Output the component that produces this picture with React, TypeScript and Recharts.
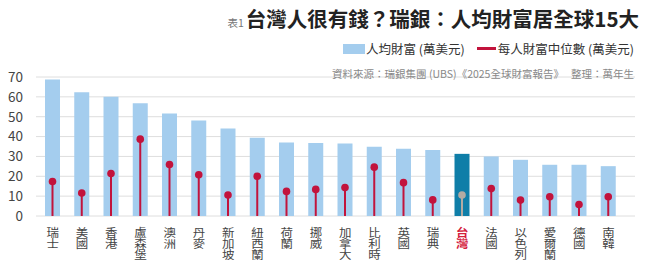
import React from "react";
import {
  ComposedChart,
  Bar,
  Cell,
  XAxis,
  YAxis,
  CartesianGrid,
  Legend,
} from "recharts";

const countries = [
  "瑞士", "美國", "香港", "盧森堡", "澳洲", "丹麥", "新加坡", "紐西蘭", "荷蘭", "挪威",
  "加拿大", "比利時", "英國", "瑞典", "台灣", "法國", "以色列", "愛爾蘭", "德國", "南韓",
];
const avgWealth = [
  68.8, 62.3, 60.0, 56.8, 51.6, 48.1, 44.1, 39.4, 37.0, 36.7,
  36.5, 34.9, 33.9, 33.3, 31.3, 30.0, 28.3, 25.8, 25.8, 25.1,
];
const medianWealth = [
  17.4, 11.6, 21.4, 38.7, 25.9, 20.8, 10.6, 20.0, 12.4, 13.4,
  14.3, 24.6, 16.8, 8.1, 10.6, 13.8, 8.0, 9.7, 5.8, 9.7,
];
const yTicks = [0, 10, 20, 30, 40, 50, 60, 70];
const highlight = "台灣";

const data = countries.map((name, i) => ({
  name,
  avg: avgWealth[i],
  median: medianWealth[i],
}));

const FONT = "'Noto Sans CJK TC', 'Noto Sans', sans-serif";

const Lollipop = (props: any) => {
  const { x, y, width, height, payload } = props;
  const cx = x + width / 2;
  const color = payload.name === highlight ? "#b3aba3" : "#c2133c";
  return (
    <g>
      <line x1={cx} x2={cx} y1={y} y2={y + height} stroke={color} strokeWidth={2} />
      <circle cx={cx} cy={y} r={3.8} fill={color} />
    </g>
  );
};

// country names are written top to bottom
const VerticalTick = (props: any) => {
  const { x, y, payload } = props;
  const isHi = payload.value === highlight;
  return (
    <g transform={`translate(${x},${y + 3}) scale(1,0.88)`}>
      <text
        x={0}
        y={0}
        style={{ writingMode: "vertical-rl" }}
        fontSize={12.5}
        fontFamily={FONT}
        fontWeight={isHi ? 700 : 400}
        fill={isHi ? "#d4213d" : "#444"}
      >
        {payload.value}
      </text>
    </g>
  );
};

const LegendContent = () => (
  <div style={{ fontFamily: FONT, color: "#333" }}>
    <div style={{ display: "flex", alignItems: "center", justifyContent: "flex-end", fontSize: 12.5 }}>
      <span style={{ display: "inline-block", width: 22, height: 10, background: "#a4cdee", marginRight: 1 }} />
      <span>人均財富 (萬美元)</span>
      <span style={{ display: "inline-block", width: 19, height: 2.5, background: "#c2133c", margin: "0 2px 0 12px" }} />
      <span>每人財富中位數 (萬美元)</span>
    </div>
    <div style={{ textAlign: "right", fontSize: 10.5, color: "#888", marginTop: 8 }}>
      資料來源：瑞銀集團 (UBS)《2025全球財富報告》&nbsp;&nbsp;&nbsp;整理：萬年生
    </div>
  </div>
);

export default function App() {
  return (
    <div style={{ position: "absolute", left: 0, top: 0, width: 650, height: 270, background: "#fff" }}>
      <div
        style={{
          position: "absolute",
          right: 11,
          top: 3,
          fontFamily: FONT,
          whiteSpace: "nowrap",
          zIndex: 2,
        }}
      >
        <span style={{ fontSize: 10.5, color: "#777", marginRight: 2 }}>表1</span>
        <span style={{ fontSize: 20.5, fontWeight: 700, color: "#222" }}>
          台灣人很有錢？瑞銀：人均財富居全球15大
        </span>
      </div>
      <ComposedChart
        width={650}
        height={270}
        data={data}
        margin={{ top: 35, right: 15, left: 0, bottom: 0 }}
      >
        <CartesianGrid vertical={false} stroke="#dedede" />
        <XAxis
          dataKey="name"
          interval={0}
          axisLine={false}
          tickLine={false}
          height={54}
          padding={{ left: 2, right: 12 }}
          tick={<VerticalTick />}
        />
        <XAxis dataKey="name" xAxisId="m" hide padding={{ left: 2, right: 12 }} />
        <YAxis
          domain={[0, 70]}
          ticks={yTicks}
          interval={0}
          width={36}
          axisLine={false}
          tickLine={false}
          tickMargin={7}
          tick={{ fontSize: 13.5, fill: "#444", fontFamily: FONT }}
        />
        <Legend
          verticalAlign="top"
          content={<LegendContent />}
          wrapperStyle={{ position: "absolute", top: 39, right: 16, left: "auto", width: 400 }}
        />
        <Bar dataKey="avg" barSize={15} isAnimationActive={false}>
          {data.map((d) => (
            <Cell key={d.name} fill={d.name === highlight ? "#0f7ea8" : "#a4cdee"} />
          ))}
        </Bar>
        <Bar
          dataKey="median"
          xAxisId="m"
          barSize={15}
          shape={<Lollipop />}
          isAnimationActive={false}
        />
      </ComposedChart>
    </div>
  );
}
